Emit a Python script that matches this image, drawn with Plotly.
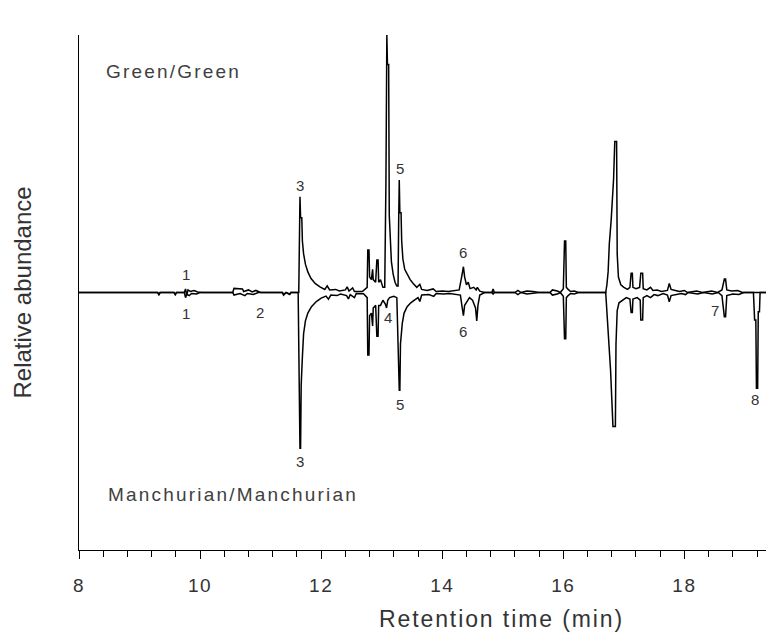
import plotly.graph_objects as go

# ---------------- data ----------------
# Green/Green chromatogram: (retention time [min], relative abundance)
green_points = [
    (8.00, 0), (9.30, 0), (9.32, -0.008), (9.34, 0),
    (9.57, 0), (9.59, -0.008), (9.61, 0),
    (9.74, 0), (9.76, 0.014), (9.78, -0.012), (9.80, 0.010), (9.84, 0.004),
    (9.90, 0.008), (9.96, 0.002), (10.02, 0),
    (10.54, 0), (10.56, 0.016), (10.70, 0.014), (10.72, 0.004), (10.80, 0.010),
    (10.86, 0.002), (10.92, 0.008), (11.00, 0),
    (11.36, 0), (11.38, -0.008), (11.42, 0), (11.48, -0.006), (11.50, 0),
    (11.63, 0), (11.64, 0.28), (11.65, 0.372), (11.66, 0.29), (11.68, 0.29),
    (11.69, 0.20), (11.71, 0.15), (11.74, 0.11), (11.78, 0.08), (11.83, 0.055),
    (11.90, 0.035), (11.98, 0.022), (12.06, 0.012), (12.10, 0.026), (12.14, 0.010),
    (12.24, 0.012), (12.30, 0.006), (12.40, 0.010), (12.43, 0.022), (12.46, 0.006),
    (12.52, 0.018), (12.55, 0.004), (12.68, 0.004),
    (12.76, 0.02), (12.77, 0.165), (12.79, 0.165), (12.80, 0.06), (12.83, 0.05),
    (12.85, 0.09), (12.86, 0.05), (12.90, 0.04), (12.92, 0.126), (12.94, 0.126),
    (12.95, 0.04), (12.98, 0.05), (13.02, 0.02), (13.05, 0.02), (13.07, 0.43),
    (13.085, 1.0), (13.095, 0.885), (13.115, 0.885), (13.125, 0.30), (13.14, 0.20),
    (13.16, 0.12), (13.19, 0.07), (13.22, 0.04), (13.25, 0.025), (13.27, 0.025),
    (13.28, 0.27), (13.29, 0.437), (13.30, 0.31), (13.32, 0.31), (13.33, 0.20),
    (13.35, 0.13), (13.38, 0.09), (13.42, 0.07), (13.47, 0.05), (13.52, 0.035),
    (13.58, 0.02), (13.63, 0.032), (13.66, 0.012), (13.75, 0.008), (13.85, 0.014),
    (13.90, 0.004), (14.00, 0.006), (14.10, 0.004), (14.20, 0.008), (14.28, 0.01),
    (14.32, 0.06), (14.35, 0.10), (14.37, 0.06), (14.40, 0.03), (14.43, 0.04),
    (14.46, 0.015), (14.52, 0.02), (14.56, 0.01), (14.58, 0.02), (14.62, 0.005),
    (14.70, 0),
    (14.82, 0), (14.84, 0.014), (14.86, 0), (15.20, 0), (15.25, 0.008), (15.30, 0),
    (15.40, 0.006), (15.50, 0.004), (15.60, 0), (15.78, 0), (15.82, 0.01),
    (15.90, 0.006), (15.95, 0),
    (16.00, 0.015), (16.02, 0.20), (16.04, 0.20), (16.05, 0.02), (16.08, 0.012),
    (16.12, 0.004), (16.18, 0.006), (16.25, 0),
    (16.70, 0), (16.72, 0.03), (16.74, 0.08), (16.76, 0.19), (16.79, 0.28),
    (16.83, 0.44), (16.85, 0.586), (16.88, 0.586), (16.89, 0.15), (16.91, 0.06),
    (16.95, 0.03), (17.00, 0.02), (17.06, 0.012), (17.10, 0.02), (17.12, 0.075),
    (17.14, 0.075), (17.15, 0.02), (17.20, 0.015), (17.26, 0.02), (17.28, 0.075),
    (17.31, 0.075), (17.32, 0.015), (17.38, 0.01), (17.44, 0.02), (17.48, 0.008),
    (17.55, 0.01), (17.62, 0.004), (17.72, 0.008), (17.75, 0.035), (17.78, 0.012),
    (17.85, 0.008), (17.92, 0.004), (18.00, 0.008), (18.05, 0), (18.20, 0.006),
    (18.30, 0), (18.45, 0.006), (18.55, 0), (18.62, 0.01), (18.66, 0.052),
    (18.68, 0.052), (18.70, 0.01), (18.78, 0.006), (18.88, 0.008), (18.96, 0),
    (19.48, 0),
]

# Manchurian/Manchurian chromatogram (plotted mirrored, below the baseline)
manch_points = [
    (8.00, 0), (9.30, 0), (9.32, 0.008), (9.34, 0), (9.57, 0), (9.59, 0.008), (9.61, 0),
    (9.74, 0), (9.76, 0.02), (9.78, 0.006), (9.82, 0.012), (9.86, 0.004),
    (9.94, 0.006), (10.00, 0),
    (10.54, 0), (10.56, 0.01), (10.66, 0.004), (10.74, 0.012), (10.78, 0.004),
    (10.88, 0.008), (10.96, 0),
    (11.36, 0), (11.38, 0.01), (11.42, 0), (11.48, 0.008), (11.50, 0),
    (11.62, 0), (11.63, 0.33), (11.64, 0.33), (11.65, 0.605), (11.66, 0.605),
    (11.67, 0.36), (11.69, 0.25), (11.71, 0.16), (11.74, 0.11), (11.78, 0.08),
    (11.84, 0.055), (11.92, 0.035), (12.00, 0.022), (12.08, 0.014), (12.12, 0.026),
    (12.16, 0.01), (12.26, 0.012), (12.32, 0.006), (12.42, 0.012), (12.45, 0.025),
    (12.48, 0.008), (12.55, 0.02), (12.58, 0.004), (12.70, 0.005),
    (12.76, 0.02), (12.77, 0.243), (12.79, 0.243), (12.80, 0.09), (12.83, 0.08),
    (12.85, 0.13), (12.86, 0.06), (12.90, 0.05), (12.92, 0.17), (12.94, 0.17),
    (12.95, 0.05), (12.98, 0.05), (13.02, 0.03), (13.06, 0.045), (13.08, 0.06),
    (13.10, 0.03), (13.13, 0.02), (13.20, 0.015), (13.25, 0.02), (13.27, 0.22),
    (13.28, 0.22), (13.29, 0.38), (13.30, 0.38), (13.31, 0.2), (13.34, 0.12),
    (13.37, 0.08), (13.42, 0.055), (13.48, 0.04), (13.54, 0.03), (13.60, 0.02),
    (13.63, 0.035), (13.66, 0.01), (13.78, 0.008), (13.86, 0.015), (13.90, 0.004),
    (14.02, 0.006), (14.12, 0.004), (14.22, 0.008), (14.30, 0.01), (14.33, 0.06),
    (14.35, 0.09), (14.37, 0.05), (14.42, 0.03), (14.45, 0.02), (14.50, 0.03),
    (14.55, 0.06), (14.57, 0.11), (14.59, 0.05), (14.62, 0.01), (14.70, 0),
    (14.82, 0), (14.84, 0.006), (14.86, 0), (15.20, 0), (15.25, 0.008), (15.30, 0),
    (15.40, 0.006), (15.50, 0.004), (15.60, 0), (15.78, 0), (15.82, 0.01),
    (15.90, 0.006), (15.95, 0),
    (16.00, 0.015), (16.02, 0.18), (16.04, 0.18), (16.05, 0.02), (16.08, 0.012),
    (16.12, 0.004), (16.18, 0.006), (16.25, 0),
    (16.70, 0), (16.72, 0.08), (16.75, 0.2), (16.78, 0.3), (16.82, 0.52),
    (16.86, 0.52), (16.87, 0.2), (16.89, 0.07), (16.92, 0.04), (16.98, 0.03),
    (17.04, 0.02), (17.10, 0.025), (17.12, 0.078), (17.14, 0.078), (17.15, 0.025),
    (17.22, 0.02), (17.27, 0.03), (17.28, 0.107), (17.31, 0.107), (17.32, 0.02),
    (17.38, 0.012), (17.44, 0.02), (17.50, 0.008), (17.56, 0.012), (17.65, 0.004),
    (17.72, 0.01), (17.75, 0.036), (17.78, 0.012), (17.86, 0.008), (17.95, 0.004),
    (18.02, 0.008), (18.06, 0), (18.22, 0.006), (18.32, 0), (18.46, 0.006),
    (18.56, 0), (18.62, 0.012), (18.66, 0.094), (18.68, 0.094), (18.70, 0.012),
    (18.80, 0.006), (18.90, 0.008), (18.98, 0),
    (19.14, 0), (19.16, 0.107), (19.18, 0.107), (19.19, 0.372), (19.21, 0.372),
    (19.22, 0.075), (19.24, 0.075), (19.25, 0), (19.48, 0),
]

# peak numbers and where they are written
green_labels = ["1", "3", "4", "5", "6"]
green_label_t = [9.76, 11.65, 13.09, 13.30, 14.34]
green_label_y = [0.068, 0.417, 1.058, 0.483, 0.157]

manch_labels = ["1", "2", "3", "4", "5", "6", "7", "8"]
manch_label_t = [9.76, 10.99, 11.65, 13.10, 13.30, 14.34, 18.51, 19.17]
manch_label_y = [-0.080, -0.076, -0.658, -0.099, -0.433, -0.153, -0.068, -0.417]

x_ticks = [8, 10, 12, 14, 16, 18]
x_range = [8, 19.48]
y_range = [-1, 1]

FONT = "Liberation Sans, Arial, sans-serif"
TXT = "#333333"


def spaced(text, px):
    """Render text with a little letter spacing (as in the reference)."""
    return f'<span style="letter-spacing:{px}px">{text}</span>'


g_t, g_v = zip(*green_points)
m_t, m_v = zip(*manch_points)

fig = go.Figure()
fig.add_trace(go.Scatter(x=list(g_t), y=list(g_v), mode="lines",
                         line=dict(color="black", width=1.5), name="Green/Green",
                         showlegend=False, hoverinfo="x+y"))
fig.add_trace(go.Scatter(x=list(m_t), y=[-v for v in m_v], mode="lines",
                         line=dict(color="black", width=1.5), name="Manchurian/Manchurian",
                         showlegend=False, hoverinfo="x+y"))

annotations = []
for lab, t, y in zip(green_labels, green_label_t, green_label_y):
    annotations.append(dict(x=t, y=y, xref="x", yref="y", text=lab, showarrow=False,
                            font=dict(family=FONT, size=15, color=TXT)))
for lab, t, y in zip(manch_labels, manch_label_t, manch_label_y):
    annotations.append(dict(x=t, y=y, xref="x", yref="y", text=lab, showarrow=False,
                            font=dict(family=FONT, size=15, color=TXT)))

annotations.append(dict(x=8.41, y=0.86, xref="x", yref="y", text=spaced("Green/Green", 2.2),
                        showarrow=False, xanchor="left", yanchor="middle",
                        font=dict(family=FONT, size=19, color="#404040")))
annotations.append(dict(x=8.45, y=-0.786, xref="x", yref="y",
                        text=spaced("Manchurian/Manchurian", 2.2),
                        showarrow=False, xanchor="left", yanchor="middle",
                        font=dict(family=FONT, size=19, color="#404040")))
# axis titles (positions relative to the plotting area)
annotations.append(dict(x=(501 - 79) / 695, y=-(619 - 550) / 515, xref="paper", yref="paper",
                        text=spaced("Retention time (min)", 1.9), showarrow=False,
                        xanchor="center", yanchor="middle",
                        font=dict(family=FONT, size=23, color=TXT)))
annotations.append(dict(x=(22 - 79) / 695, y=0.5, xref="paper", yref="paper",
                        text="Relative abundance", showarrow=False, textangle=-90,
                        xanchor="center", yanchor="middle",
                        font=dict(family=FONT, size=24, color=TXT)))

# the page body has an 8px margin, so the figure is 8px smaller than the window
fig.update_layout(
    width=766, height=626,
    margin=dict(l=71, r=0, t=27, b=84),
    paper_bgcolor="white", plot_bgcolor="white",
    annotations=annotations,
    showlegend=False,
)
fig.update_xaxes(
    range=x_range, tickvals=x_ticks, ticktext=[spaced(str(v), 1.5) for v in x_ticks],
    showline=True, linecolor="black", linewidth=1.4, mirror=False,
    ticks="outside", ticklen=8, tickwidth=1.4, tickcolor="black",
    ticklabelstandoff=10,
    minor=dict(tick0=8, dtick=0.4, ticks="outside", ticklen=6, tickwidth=1.2, tickcolor="black"),
    showgrid=False, zeroline=False,
    tickfont=dict(family=FONT, size=19, color=TXT),
)
fig.update_yaxes(
    range=y_range, showline=True, linecolor="black", linewidth=1.4,
    showticklabels=False, ticks="", showgrid=False, zeroline=False,
)

fig.write_html("out.html")
